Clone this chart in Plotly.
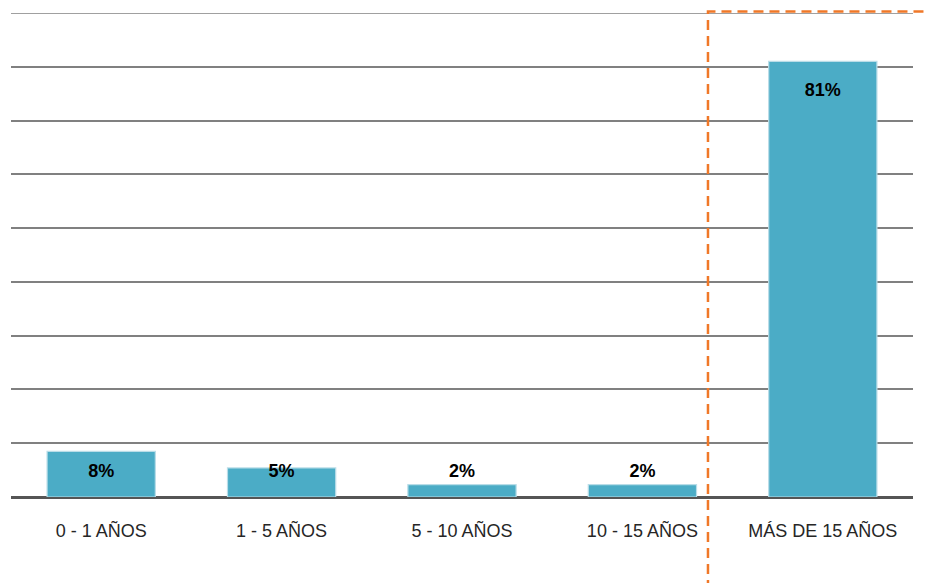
import plotly.graph_objects as go
import numpy as np

categories = ["0 - 1 AÑOS", "1 - 5 AÑOS", "5 - 10 AÑOS", "10 - 15 AÑOS", "MÁS DE 15 AÑOS"]
values = [8.5, 5.4, 2.3, 2.3, 81.0]
labels = [f"{v:.0f}%" for v in values]
y_max = 90

label_y = np.maximum(np.array(values) - 5.6, 4.6)

fig = go.Figure()
fig.add_trace(go.Bar(
    x=categories, y=values,
    marker=dict(color="#4BACC6", line=dict(color="#B9DDE8", width=1.2)),
    width=0.6, hoverinfo="skip", showlegend=False,
))
fig.add_trace(go.Scatter(
    x=categories, y=label_y, text=labels, mode="text",
    textfont=dict(family="Liberation Sans, Arial, sans-serif", size=18, color="#000000", weight="bold"),
    hoverinfo="skip", showlegend=False,
))

# top gridline at the range edge
fig.add_shape(
    type="line", xref="paper", yref="y", x0=0, x1=1, y0=y_max, y1=y_max,
    line=dict(color="#a0a0a0", width=2), layer="below",
)
fig.add_shape(
    type="rect", xref="paper", yref="paper",
    x0=0.7727, x1=1.15, y0=-0.35, y1=1.003,
    line=dict(color="#F07828", width=2.5, dash="10px,6px"),
    fillcolor="rgba(0,0,0,0)", layer="above",
)

fig.update_layout(
    width=934, height=583,
    margin=dict(l=3, r=29, t=5, b=94),
    paper_bgcolor="white", plot_bgcolor="white",
    bargap=0.4,
    xaxis=dict(
        showgrid=False, showline=False, ticks="",
        tickfont=dict(family="Liberation Sans, Arial, sans-serif", size=18, color="#262626"),
        ticklabelstandoff=21,
    ),
    yaxis=dict(
        range=[0, y_max], tickvals=[10, 20, 30, 40, 50, 60, 70, 80], showticklabels=False,
        showgrid=True, gridcolor="#808080", gridwidth=2,
        zeroline=True, zerolinecolor="#555555", zerolinewidth=3,
        showline=False, ticks="",
    ),
)

fig.write_html("out.html")
